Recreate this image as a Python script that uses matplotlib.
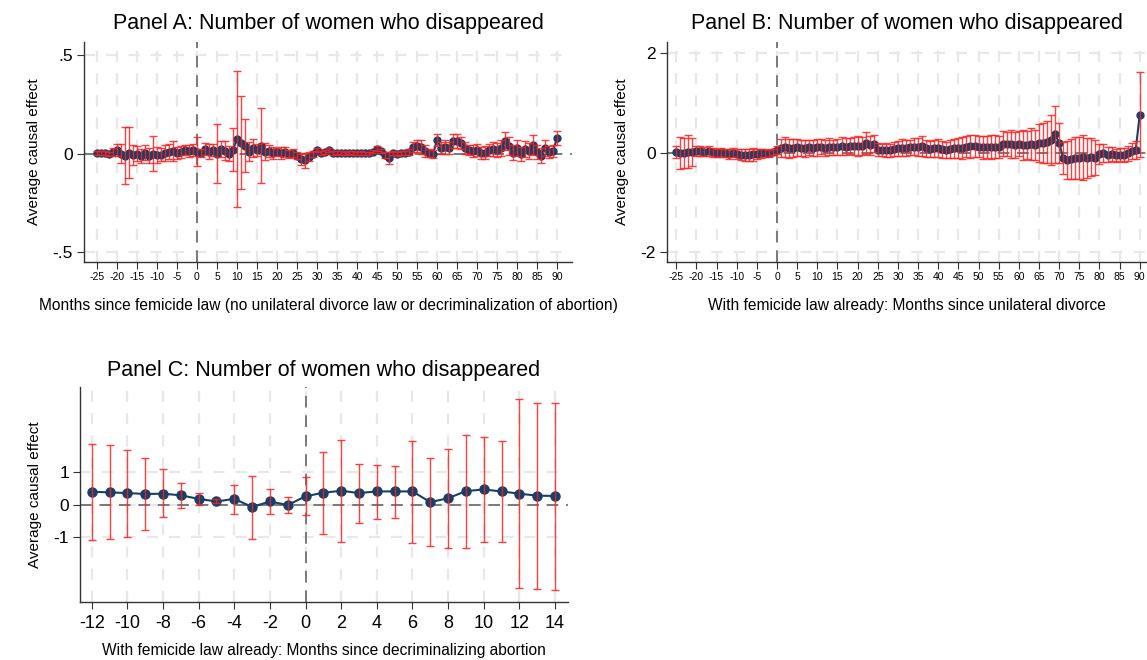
import numpy as np
import matplotlib
matplotlib.use('Agg')
import matplotlib.pyplot as plt

plt.rcParams['font.family'] = ['Liberation Sans', 'DejaVu Sans']

# ---- data ----
months_ab = list(range(-25, 91))

coef_a = [0.005, 0.003, 0.002, 0.000, 0.008,
          0.020, 0.000, -0.010, 0.005, -0.008,
          0.000, -0.012, 0.005, -0.010, 0.000,
          -0.008, -0.005, 0.002, 0.010, 0.012,
          0.005, 0.008, 0.018, 0.012, 0.020,
          0.010, 0.005, 0.025, 0.010, 0.018,
          0.000, 0.022, 0.015, 0.000, 0.020,
          0.075, 0.055, 0.040, 0.010, 0.030,
          0.020, 0.040, 0.010, 0.015, 0.005,
          0.010, 0.005, 0.008, 0.000, 0.002,
          -0.010, -0.030, -0.035, -0.015, 0.000,
          0.020, 0.005, 0.010, 0.020, 0.005,
          0.005, 0.003, 0.002, 0.004, 0.003,
          0.002, 0.003, 0.001, 0.002, 0.010,
          0.025, 0.012, -0.005, -0.022, 0.002,
          0.000, 0.002, 0.005, 0.008, 0.035,
          0.040, 0.035, 0.015, 0.002, -0.003,
          0.070, 0.030, 0.032, 0.028, 0.065,
          0.062, 0.055, 0.030, 0.018, 0.015,
          0.020, 0.005, 0.005, 0.020, 0.022,
          0.018, 0.030, 0.065, 0.040, 0.005,
          0.030, -0.003, 0.025, 0.015, 0.045,
          0.010, -0.010, 0.030, 0.010, 0.012,
          0.080]

err_a = [0.010, 0.010, 0.010, 0.010, 0.020,
         0.030, 0.050, 0.145, 0.130, 0.050,
         0.040, 0.035, 0.040, 0.040, 0.090,
         0.040, 0.035, 0.040, 0.040, 0.050,
         0.030, 0.030, 0.025, 0.030, 0.030,
         0.075, 0.020, 0.030, 0.040, 0.030,
         0.150, 0.040, 0.050, 0.040, 0.110,
         0.345, 0.235, 0.135, 0.050, 0.045,
         0.030, 0.190, 0.045, 0.030, 0.030,
         0.020, 0.030, 0.025, 0.020, 0.020,
         0.020, 0.030, 0.040, 0.025, 0.015,
         0.010, 0.010, 0.010, 0.010, 0.010,
         0.008, 0.008, 0.008, 0.008, 0.008,
         0.008, 0.008, 0.008, 0.008, 0.008,
         0.012, 0.010, 0.015, 0.030, 0.010,
         0.010, 0.010, 0.010, 0.015, 0.025,
         0.030, 0.035, 0.030, 0.020, 0.020,
         0.030, 0.030, 0.035, 0.030, 0.035,
         0.035, 0.030, 0.030, 0.025, 0.030,
         0.030, 0.030, 0.035, 0.030, 0.035,
         0.035, 0.040, 0.045, 0.045, 0.040,
         0.040, 0.035, 0.040, 0.040, 0.050,
         0.035, 0.040, 0.040, 0.030, 0.030,
         0.035]

coef_b = [0.01, -0.01, 0.00, 0.02, 0.01,
          0.03, 0.04, 0.02, 0.03, 0.01,
          0.00, 0.01, -0.01, -0.02, 0.00,
          -0.03, -0.04, -0.05, -0.04, -0.03,
          -0.02, -0.01, 0.00, -0.01, 0.01,
          0.05, 0.10, 0.11, 0.09, 0.10,
          0.11, 0.10, 0.09, 0.11, 0.10,
          0.11, 0.12, 0.10, 0.12, 0.11,
          0.12, 0.13, 0.12, 0.14, 0.13,
          0.14, 0.13, 0.20, 0.15, 0.18,
          0.06, 0.05, 0.06, 0.05, 0.08,
          0.09, 0.10, 0.09, 0.11, 0.12,
          0.11, 0.14, 0.09, 0.08, 0.09,
          0.10, 0.07, 0.06, 0.08, 0.09,
          0.10, 0.09, 0.12, 0.13, 0.14,
          0.12, 0.11, 0.12, 0.11, 0.12,
          0.11, 0.18, 0.17, 0.18, 0.16,
          0.18, 0.15, 0.16, 0.17, 0.15,
          0.19, 0.20, 0.22, 0.26, 0.37,
          0.20, -0.11, -0.15, -0.13, -0.10,
          -0.10, -0.09, -0.10, -0.08, -0.10,
          -0.03, -0.01, -0.04, -0.03, -0.05,
          -0.04, -0.05, -0.01, 0.03, 0.06,
          0.77]

err_b = [0.12, 0.32, 0.30, 0.33, 0.28,
         0.10, 0.10, 0.09, 0.10, 0.09,
         0.08, 0.09, 0.08, 0.10, 0.09,
         0.10, 0.11, 0.12, 0.12, 0.13,
         0.10, 0.09, 0.08, 0.07, 0.06,
         0.08, 0.18, 0.20, 0.19, 0.18,
         0.17, 0.16, 0.17, 0.15, 0.16,
         0.17, 0.15, 0.16, 0.17, 0.15,
         0.16, 0.18, 0.17, 0.16, 0.18,
         0.20, 0.18, 0.22, 0.19, 0.17,
         0.13, 0.12, 0.14, 0.13, 0.14,
         0.15, 0.17, 0.16, 0.15, 0.17,
         0.18, 0.20, 0.17, 0.16, 0.17,
         0.18, 0.17, 0.16, 0.18, 0.19,
         0.20, 0.22, 0.21, 0.23, 0.22,
         0.21, 0.23, 0.22, 0.24, 0.23,
         0.22, 0.25, 0.24, 0.28, 0.26,
         0.25, 0.30, 0.28, 0.32, 0.30,
         0.38, 0.40, 0.42, 0.50, 0.57,
         0.40, 0.32, 0.38, 0.40, 0.42,
         0.42, 0.45, 0.40, 0.38, 0.35,
         0.20, 0.18, 0.15, 0.14, 0.13,
         0.13, 0.14, 0.15, 0.16, 0.18,
         0.86]

months_c = list(range(-12, 15))
coef_c = [0.40, 0.38, 0.36, 0.33, 0.34, 0.29, 0.18, 0.10, 0.18, -0.07, 0.10, -0.01, 0.26,
          0.37, 0.43, 0.36, 0.41, 0.41, 0.41, 0.08, 0.20, 0.42, 0.47, 0.41, 0.34, 0.28, 0.27]
upper_c = [1.88, 1.85, 1.70, 1.45, 1.09, 0.67, 0.36, 0.18, 0.61, 0.90, 0.48, 0.24, 0.84,
           1.62, 1.99, 1.26, 1.24, 1.20, 1.98, 1.45, 1.73, 2.16, 2.08, 1.96, 3.26, 3.13, 3.14]
lower_c = [-1.08, -1.06, -0.99, -0.78, -0.38, -0.09, 0.00, 0.04, -0.28, -1.05, -0.28, -0.27, -0.32,
           -0.89, -1.15, -0.56, -0.43, -0.40, -1.18, -1.28, -1.35, -1.33, -1.15, -1.15, -2.58, -2.60, -2.64]

title_txt = 'Number of women who disappeared'
xlab_a = 'Months since femicide law (no unilateral divorce law or decriminalization of abortion)'
xlab_b = 'With femicide law already: Months since unilateral divorce'
xlab_c = 'With femicide law already: Months since decriminalizing abortion'

navy = '#1a3f66'
W, H = 1147, 660


def axes_px(left, right, top, bottom):
    return [left / W, (H - bottom) / H, (right - left) / W, (bottom - top) / H]


def style_axes(ax, xticks, yticks, ylabels, xtick_fs, ytick_fs, xpad):
    for s in ['top', 'right']:
        ax.spines[s].set_visible(False)
    for s in ['left', 'bottom']:
        ax.spines[s].set_color('#333333')
        ax.spines[s].set_linewidth(1.0)
    ax.set_xticks(xticks)
    ax.set_xticklabels([str(t) for t in xticks])
    ax.set_yticks(yticks)
    ax.set_yticklabels(ylabels)
    ax.tick_params(axis='x', labelsize=xtick_fs, length=5, color='#333333', pad=xpad)
    ax.tick_params(axis='y', labelsize=ytick_fs, length=5, color='#333333', pad=3)
    ax.grid(True, color='#e8e8e8', linestyle=(0, (5, 5)), linewidth=1.6, zorder=0)
    ax.set_axisbelow(True)


def draw_series(ax, x, y, lo, hi, ms):
    ax.axhline(0, color='#7a7a7a', linestyle=(0, (6, 4)), linewidth=1.4, zorder=1)
    ax.axvline(0, color='#7a7a7a', linestyle=(0, (6, 4)), linewidth=1.4, zorder=1)
    ax.plot(x, y, color=navy, linewidth=1.5, marker='o', markersize=ms,
            markerfacecolor=navy, markeredgecolor=navy, zorder=2)
    y = np.array(y)
    yerr = [y - np.array(lo), np.array(hi) - y]
    ax.errorbar(x, y, yerr=yerr, fmt='none', ecolor='#ff2020', elinewidth=1.0,
                capsize=3, capthick=1.0, alpha=0.85, zorder=3)


fig = plt.figure(figsize=(W / 100, H / 100), dpi=100)

title_fs = 15.5
xlab_fs = 11.2
ylab_fs = 11

# Panel A
ax_a = fig.add_axes(axes_px(84, 572, 42, 262))
ya = np.array(coef_a)
ea = np.array(err_a)
draw_series(ax_a, months_ab, ya, ya - ea, ya + ea, 5)
ax_a.set_xlim(-28.25, 93.75)
ax_a.set_ylim(-0.55, 0.566)
style_axes(ax_a, list(range(-25, 91, 5)), [-0.5, 0, 0.5], ['-.5', '0', '.5'], 7.5, 12.5, 2)
ax_a.set_title('Panel A: ' + title_txt, fontsize=title_fs, pad=9)
ax_a.set_xlabel(xlab_a, fontsize=xlab_fs, labelpad=12)
ax_a.set_ylabel('Average causal effect', fontsize=ylab_fs, labelpad=8)

# Panel B
ax_b = fig.add_axes(axes_px(667, 1147, 42, 262))
yb = np.array(coef_b)
eb = np.array(err_b)
draw_series(ax_b, months_ab, yb, yb - eb, yb + eb, 5)
ax_b.set_xlim(-27.3, 91.8)
ax_b.set_ylim(-2.2, 2.23)
style_axes(ax_b, list(range(-25, 91, 5)), [-2, 0, 2], ['-2', '0', '2'], 7.5, 12.5, 2)
ax_b.set_title('Panel B: ' + title_txt, fontsize=title_fs, pad=9)
ax_b.set_xlabel(xlab_b, fontsize=xlab_fs, labelpad=12)
ax_b.set_ylabel('Average causal effect', fontsize=ylab_fs, labelpad=8)

# Panel C
ax_c = fig.add_axes(axes_px(80, 568, 387, 602))
draw_series(ax_c, months_c, coef_c, lower_c, upper_c, 6.5)
ax_c.set_xlim(-12.66, 14.73)
ax_c.set_ylim(-3.0, 3.63)
style_axes(ax_c, list(range(-12, 15, 2)), [-1, 0, 1], ['-1', '0', '1'], 13, 12.5, 4)
ax_c.set_title('Panel C: ' + title_txt, fontsize=title_fs, pad=8)
ax_c.set_xlabel(xlab_c, fontsize=xlab_fs, labelpad=8)
ax_c.set_ylabel('Average causal effect', fontsize=ylab_fs, labelpad=8)

fig.savefig('out.png', dpi=100, facecolor='white')
